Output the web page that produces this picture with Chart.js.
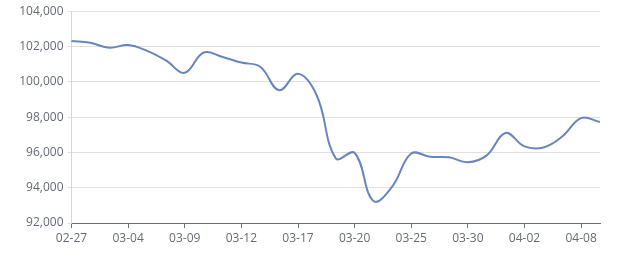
<!DOCTYPE html>
<html><head><meta charset="utf-8">
<script src="https://cdn.jsdelivr.net/npm/chart.js@4/dist/chart.umd.min.js"></script>
<style>html,body{margin:0;padding:0;background:#fff}#wrap{width:640px;height:270px;position:relative}</style>
</head><body><div id="wrap"><canvas id="c"></canvas></div>
<script>
const dates = ['02-27','03-02','03-03','03-04','03-05','03-06','03-09','03-10','03-11','03-12','03-13','03-16','03-17','03-18','03-19','03-20','03-23','03-24','03-25','03-26','03-27','03-30','03-31','04-01','04-02','04-03','04-07','04-08','04-09'];
const prices = [102310,102210,101930,102080,101750,101210,100510,101660,101410,101090,100850,99520,100450,99210,95660,95970,93240,94080,95940,95750,95720,95440,95830,97100,96340,96280,96900,97940,97720];
const yTicks = [92000,94000,96000,98000,100000,102000,104000];
const labelEvery = 3;

const font = {family:'"Open Sans","Noto Sans",sans-serif', size:12};
new Chart(document.getElementById('c'), {
  type:'line',
  data:{labels:dates, datasets:[{data:prices, borderColor:'#6885bd', borderWidth:2, pointRadius:0, tension:0.4, fill:false}]},
  options:{
    responsive:true, maintainAspectRatio:false, animation:false,
    layout:{padding:{top:3,right:40,bottom:0,left:0}},
    plugins:{legend:{display:false}, tooltip:{enabled:false}},
    scales:{
      x:{offset:false,
        grid:{drawOnChartArea:false, drawTicks:true, tickLength:5, color:'#6e7079'},
        border:{color:'#6e7079', width:1},
        ticks:{autoSkip:false, maxRotation:0, color:'#666a73', font:font, padding:3,
          callback:function(v,i){return i%labelEvery===0? dates[i] : null;}},
        afterFit:function(s){s.height=47;}
      },
      y:{min:92000,max:104000,
        afterBuildTicks:function(s){s.ticks=yTicks.map(v=>({value:v}));},
        grid:{color:'#e0e0e0', tickLength:4, drawTicks:true},
        border:{display:true,color:'#d6d6d6'},
        ticks:{color:'#666a73', font:font, padding:4,
          callback:function(v){return v.toLocaleString('en-US');}},
        afterFit:function(s){s.width=71.5;}
      }
    }
  }
});
</script></body></html>
